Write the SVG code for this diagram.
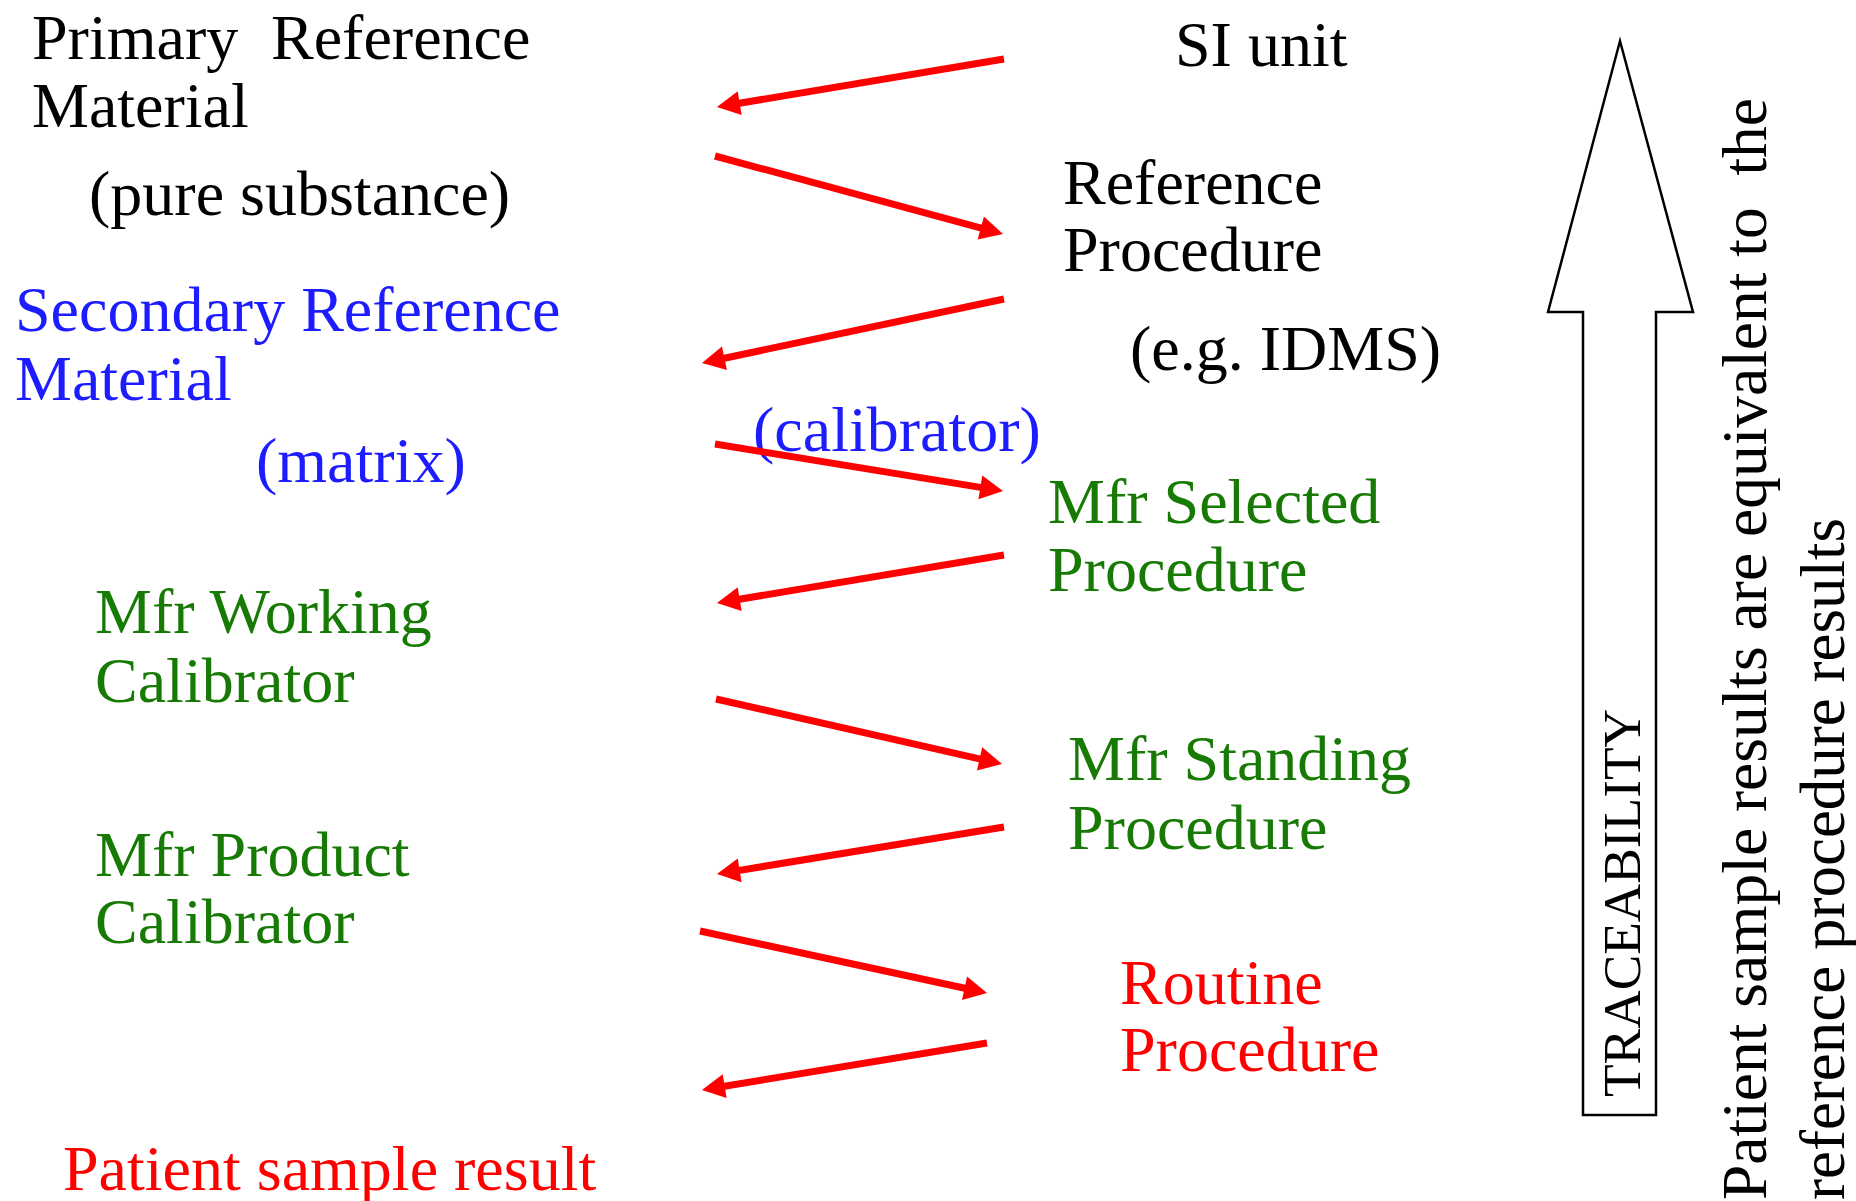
<svg xmlns="http://www.w3.org/2000/svg" width="1856" height="1201" viewBox="0 0 1856 1201">
<style>
text{font-family:"Liberation Serif","Times New Roman",serif;font-size:64px}
.k{fill:#000}
.b{fill:#1c1cff}
.g{fill:#167a04}
.r{fill:#ff0000}
.conn line{stroke:#ff0000;stroke-width:7;fill:none;marker-end:url(#ah)}
</style>
<defs>
<marker id="ah" markerUnits="userSpaceOnUse" viewBox="-24 -13 25 26" markerWidth="25" markerHeight="26" refX="-12" refY="0" orient="auto">
<path d="M0,0 L-23,-12 L-23,12 Z" fill="#ff0000"/>
</marker>
</defs>
<rect width="1856" height="1201" fill="#fff"/>
<g id="primary-ref-material">
<text class="k" x="32" y="59">Primary<tspan x="271">Reference</tspan></text>
<text class="k" x="32" y="127">Material</text>
<text class="k" x="89" y="215">(pure substance)</text>
</g>
<g id="secondary-ref-material">
<text class="b" x="15" y="331">Secondary Reference</text>
<text class="b" x="15" y="400">Material</text>
<text class="b" x="256" y="482">(matrix)</text>
<text class="b" x="753" y="451">(calibrator)</text>
</g>
<g id="mfr-working-calibrator">
<text class="g" x="95" y="633">Mfr Working</text>
<text class="g" x="95" y="702">Calibrator</text>
</g>
<g id="mfr-product-calibrator">
<text class="g" x="95" y="876">Mfr Product</text>
<text class="g" x="95" y="943">Calibrator</text>
</g>
<g id="patient-sample-result">
<text class="r" x="63" y="1190">Patient sample result</text>
</g>
<g id="si-unit">
<text class="k" x="1175" y="66">SI unit</text>
</g>
<g id="reference-procedure">
<text class="k" x="1063" y="204">Reference</text>
<text class="k" x="1063" y="271">Procedure</text>
<text class="k" x="1130" y="370">(e.g. IDMS)</text>
</g>
<g id="mfr-selected-procedure">
<text class="g" x="1048" y="523">Mfr Selected</text>
<text class="g" x="1048" y="591">Procedure</text>
</g>
<g id="mfr-standing-procedure">
<text class="g" x="1068" y="780">Mfr Standing</text>
<text class="g" x="1068" y="849">Procedure</text>
</g>
<g id="routine-procedure">
<text class="r" x="1120" y="1004">Routine</text>
<text class="r" x="1120" y="1071">Procedure</text>
</g>
<g id="traceability-arrow">
<polygon points="1620,41 1693,312 1656,312 1656,1115 1583,1115 1583,312 1548,312" fill="#fff" stroke="#000" stroke-width="2.5"/>
<text class="k" transform="translate(1640,1097) rotate(-90)" style="font-size:53px" textLength="388" lengthAdjust="spacingAndGlyphs">TRACEABILITY</text>
</g>
<g id="equivalence-note">
<text class="k" xml:space="preserve" transform="translate(1766,1200) rotate(-90)" style="font-size:63px;white-space:pre" textLength="1102" lengthAdjust="spacingAndGlyphs">Patient sample results are equivalent to  the</text>
<text class="k" transform="translate(1844,1200) rotate(-90)" style="font-size:63px" textLength="682" lengthAdjust="spacingAndGlyphs">reference procedure results</text>
</g>
<g id="connectors" class="conn">
<line x1="1004" y1="59" x2="728.8" y2="105.0"/>
<line x1="715" y1="156" x2="991.4" y2="230.9"/>
<line x1="1004" y1="299" x2="713.7" y2="360.5"/>
<line x1="715" y1="444" x2="991.2" y2="489.1"/>
<line x1="1004" y1="555" x2="728.8" y2="601.0"/>
<line x1="716" y1="699" x2="990.3" y2="761.3"/>
<line x1="1004" y1="827" x2="728.8" y2="872.1"/>
<line x1="700" y1="931" x2="975.3" y2="990.5"/>
<line x1="987" y1="1043" x2="713.8" y2="1088.0"/>
</g>
</svg>
